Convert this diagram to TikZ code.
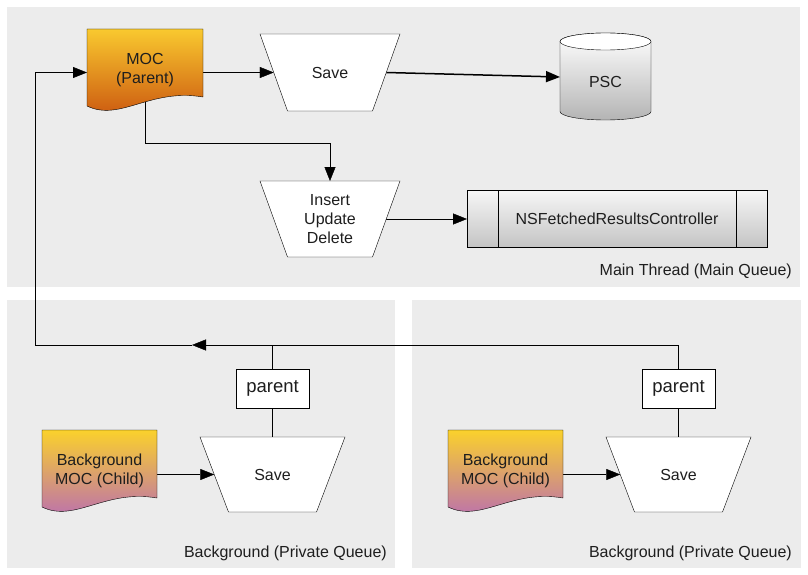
\documentclass[tikz,border=0pt]{standalone}
\usepackage{fontspec}
\setmainfont{Liberation Sans}
\usetikzlibrary{arrows.meta,calc}
\pgfdeclarelayer{bg}
\pgfdeclarelayer{conn}
\pgfdeclarelayer{shp}
\pgfsetlayers{bg,conn,shp,main}
\definecolor{panelc}{HTML}{ECECEC}
\definecolor{moctop}{HTML}{F9C92F}
\definecolor{mocbot}{HTML}{C9520E}
\definecolor{chtop}{HTML}{FAD12C}
\definecolor{chbot}{HTML}{B86AB6}
\definecolor{cylbot}{HTML}{B4B4B4}
\definecolor{frtop}{HTML}{F6F6F6}
\definecolor{frbot}{HTML}{C4C4C4}
\definecolor{txt}{HTML}{1E1E1E}
\newcommand\mydoc[3]{%
  \shade[draw=black, top color=#2, bottom color=#3]
    (#1.north west) -- (#1.north east) -- ($(#1.north east)+(0,68)$)
    .. controls ($(#1.north west)+(63,59)$) and ($(#1.north west)+(33,93)$) ..
    ($(#1.north west)+(0,77)$) -- cycle;}
\newcommand\mytrap[2]{%
  \filldraw[fill=white] (#1.north west) -- (#1.north east) --
    ($(#1.south east)+(-#2,0)$) -- ($(#1.south west)+(#2,0)$) -- cycle;}
\begin{document}
\begin{tikzpicture}[x=1pt,y=-1pt, line width=1.3pt,
  every node/.style={text=txt},
  hold/.style={inner sep=0pt, outer sep=0pt, align=center,
    font=\fontsize{16}{19}\selectfont},
  lbl/.style={inner sep=0pt, anchor=east, font=\fontsize{16}{19}\selectfont},
  parbox/.style={inner sep=0pt, outer sep=0pt, draw=black, fill=white,
    minimum width=73pt, minimum height=39pt, font=\fontsize{18.5}{22}\selectfont},
  arr/.style={-{Triangle[length=14pt,width=11pt]}}]
\useasboundingbox (0,0) rectangle (808,575);
\begin{pgfonlayer}{bg}
  \fill[white] (0,0) rectangle (808,575);
  \fill[panelc] (7,7) rectangle (800,287);
  \fill[panelc] (7,300) rectangle (395,568);
  \fill[panelc] (412,300) rectangle (801,568);
\end{pgfonlayer}

% nodes
\node[hold, minimum width=116pt, minimum height=83pt] (moc) at (145,70.5) {MOC\\(Parent)};
\node[hold, minimum width=140pt, minimum height=77pt] (save) at (330,72.5) {Save};
\node[hold, minimum width=91pt, minimum height=76pt] (psc) at (605.5,82) {PSC};
\node[hold, minimum width=140pt, minimum height=76pt] (iud) at (330,219) {Insert\\Update\\Delete};
\node[hold, minimum width=300pt, minimum height=57pt] (nsfrc) at (617,219) {NSFetchedResultsController};
\node[lbl] (lmain) at (792,271) {Main Thread (Main Queue)};

\node[parbox] (lpar) at (272.5,388.5) {parent};
\node[hold, minimum width=145pt, minimum height=75pt] (lsave) at (272.5,474.5) {Save};
\node[hold, minimum width=115pt, minimum height=82pt] (lchild) at (99.5,471) {Background\\MOC (Child)};
\node[lbl] (lbg) at (387,553) {Background (Private Queue)};

\node[parbox] (rpar) at (678.5,388.5) {parent};
\node[hold, minimum width=145pt, minimum height=75pt] (rsave) at (678.5,474.5) {Save};
\node[hold, minimum width=115pt, minimum height=82pt] (rchild) at (505.5,471) {Background\\MOC (Child)};
\node[lbl] (rbg) at (792,553) {Background (Private Queue)};

\coordinate (m1) at (0,143);
\coordinate (lx) at (35,0);
\coordinate (ah) at (192,345);

% connectors
\begin{pgfonlayer}{conn}
  \draw[arr] (moc.east |- save.west) -- ($(save.west)+(13.75,0)$);
  \draw[arr, line width=1.5pt] ($(save.east)+(-13.75,0)$) -- ($(psc.west)+(0,-5)$);
  \draw[arr] (moc.center) -- (moc.center |- m1) -| (iud.north);
  \draw[arr] ($(iud.east)+(-13.75,0)$) -- (nsfrc.west);
  \draw[arr] (rpar.north) |- (ah);
  \draw[arr] (ah) -| (lx |- save.west) -- (moc.west |- save.west);
  \draw (lpar.north) -- (lpar.north |- ah);
  \draw (lpar.south) -- (lsave.north);
  \draw (rpar.south) -- (rsave.north);
  \draw[arr] (lchild.east |- lsave.west) -- ($(lsave.west)+(14.25,0)$);
  \draw[arr] (rchild.east |- rsave.west) -- ($(rsave.west)+(14.25,0)$);
\end{pgfonlayer}

% shapes
\begin{pgfonlayer}{shp}
  \mydoc{moc}{moctop}{mocbot}
  \mydoc{lchild}{chtop}{chbot}
  \mydoc{rchild}{chtop}{chbot}
  \mytrap{save}{27.5}
  \mytrap{iud}{27.5}
  \mytrap{lsave}{28.5}
  \mytrap{rsave}{28.5}
  % cylinder
  \shade[draw=black, top color=white, bottom color=cylbot]
    (560,41.5) -- (560,111.5)
    arc[start angle=180, end angle=360, x radius=45.5pt, y radius=8.5pt]
    -- (651,41.5)
    arc[start angle=0, end angle=180, x radius=45.5pt, y radius=8.5pt] -- cycle;
  \filldraw[fill=white] (605.5,41.5) ellipse[x radius=45.5pt, y radius=8.5pt];
  % fetched results controller
  \shade[draw=black, top color=frtop, bottom color=frbot]
    (nsfrc.north west) rectangle (nsfrc.south east);
  \draw ($(nsfrc.north west)+(31,0)$) -- ($(nsfrc.south west)+(31,0)$);
  \draw ($(nsfrc.north east)+(-31,0)$) -- ($(nsfrc.south east)+(-31,0)$);
\end{pgfonlayer}
\end{tikzpicture}
\end{document}
